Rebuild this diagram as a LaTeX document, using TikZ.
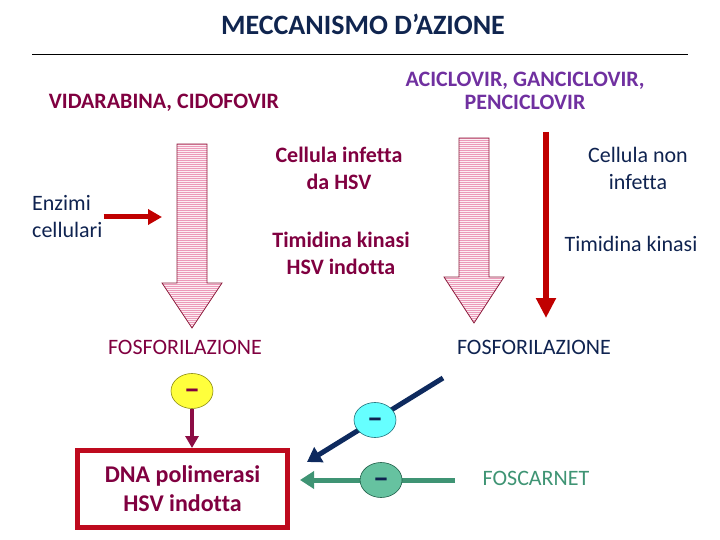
\documentclass[tikz,border=0pt]{standalone}
\usepackage{fontspec}
\setmainfont{Carlito}[Ligatures=NoCommon]
\usetikzlibrary{positioning,arrows.meta,shapes.geometric,patterns.meta}
\definecolor{titleNavy}{HTML}{10254F}
\definecolor{textNavy}{HTML}{0F2350}
\definecolor{textMaroon}{HTML}{800040}
\definecolor{textPurple}{HTML}{7030A0}
\definecolor{arrowRed}{HTML}{C00000}
\definecolor{boxRed}{HTML}{BE0A1E}
\definecolor{stripePink}{HTML}{EC9AB9}
\definecolor{fillPink}{HTML}{FCEEF3}
\definecolor{edgeMaroon}{HTML}{8C1C3C}
\definecolor{arrowMaroon}{HTML}{8C0D45}
\definecolor{inhibNavy}{HTML}{0E2A5E}
\definecolor{inhibGreen}{HTML}{3F9474}
\definecolor{discYellow}{HTML}{FFFF3C}
\definecolor{discYellowEdge}{HTML}{8A8A10}
\definecolor{discCyan}{HTML}{66FFFF}
\definecolor{discCyanEdge}{HTML}{1E6E78}
\definecolor{discGreen}{HTML}{66C2A0}
\definecolor{discGreenEdge}{HTML}{1E5E48}

\begin{document}
\begin{tikzpicture}[x=1pt,y=-1pt,
          every node/.style={inner sep=0pt,align=center},
          lbl/.style={font=\fontsize{22pt}{27pt}\selectfont},
          lblb/.style={font=\fontsize{22pt}{27pt}\selectfont\bfseries},
          bigarrow/.style={draw=edgeMaroon,line width=0.8pt,
                           preaction={fill=fillPink},
                           pattern={Lines[angle=0,distance=2pt,line width=0.6pt]},
                           pattern color=stripePink},
          disc/.style={ellipse,draw,line width=0.6pt,
                       minimum width=42pt,minimum height=35pt,
                       text height=0pt,text depth=0pt,
                       font=\fontsize{32pt}{32pt}\selectfont\bfseries},
          inhib/.style={line width=5pt,-{Triangle[length=14pt,width=17pt]}},
        ]
        \useasboundingbox (0,0) rectangle (720,540);
        % title and rule
        \node[font=\fontsize{28pt}{30pt}\selectfont\bfseries,text=titleNavy]
              (title) at (363,24) {MECCANISMO D’AZIONE};
        \draw[line width=0.8pt] (32,54) -- (688,54);
        % drug groups
        \node[lblb,text=textMaroon] (vidar) at (164,103) {VIDARABINA, CIDOFOVIR};
        \node[font=\fontsize{22pt}{23pt}\selectfont\bfseries,text=textPurple]
              (aciclo) at (525,91) {ACICLOVIR, GANCICLOVIR,\\PENCICLOVIR};
        % phosphorylation pathways
        \path[bigarrow] (177,144) -- (207,144) -- (207,283) -- (222,283)
              -- (192,328) -- (162,283) -- (177,283) -- cycle;
        \path[bigarrow] (459,138) -- (489,138) -- (489,277) -- (504,277)
              -- (474,323) -- (444,277) -- (459,277) -- cycle;
        \coordinate (redTop) at (546,132);
        \coordinate (redTip) at (546,318);
        \draw[arrowRed,line width=6pt,-{Triangle[length=20pt,width=19pt]}]
              (redTop) -- (redTip);
        \node[lbl,text=textNavy,align=left,anchor=west]
              (enzimi) at (32,217) {Enzimi\\cellulari};
        \coordinate (enzTip) at (162,217);
        \draw[arrowRed,line width=5pt,-{Triangle[length=14pt,width=15pt]}]
              ([xshift=1pt]enzimi.east) -- (enzTip);
        \node[lblb,text=textMaroon] (infetta) at (339,168) {Cellula infetta\\da HSV};
        \node[lblb,text=textMaroon] (tkhsv) at (341,253) {Timidina kinasi\\HSV indotta};
        \node[lbl,text=textNavy] (noninf) at (638,168) {Cellula non\\infetta};
        \node[lbl,text=textNavy] (tkcell) at (631,244) {Timidina kinasi};
        \node[lbl,text=textMaroon] (fosfoL) at (185,347) {FOSFORILAZIONE};
        \node[lbl,text=textNavy] (fosfoR) at (534,347) {FOSFORILAZIONE};
        % target enzyme
        \node[font=\fontsize{24pt}{29pt}\selectfont\bfseries,text=textMaroon,
              draw=boxRed,line width=5pt,
              minimum width=210pt,minimum height=77pt]
              (dnapol) at (182.5,489) {DNA polimerasi\\HSV indotta};
        \draw[boxRed,line width=1pt] ([shift={(4pt,-2.5pt)}]dnapol.north west)
              -- ([shift={(4pt,2.5pt)}]dnapol.south west);
        \draw[boxRed,line width=1pt] ([shift={(-4pt,-2.5pt)}]dnapol.north east)
              -- ([shift={(-4pt,2.5pt)}]dnapol.south east);
        % inhibitions
        \node[disc,fill=discYellow,draw=discYellowEdge,text=textMaroon]
              (menoY) at (192,391) {\raisebox{-0.25em}{–}};
        \draw[arrowMaroon,line width=4pt,-{Triangle[length=12pt,width=13pt]}]
              (menoY) -- (menoY |- dnapol.north);
        \coordinate (navyA) at (443,378);
        \coordinate (navyB) at (307,462);
        \draw[inhib,inhibNavy] (navyA) -- node[disc,fill=discCyan,
              draw=discCyanEdge,text=textNavy] (menoC) {\raisebox{-0.25em}{–}} (navyB);
        \coordinate (greenA) at (455,480);
        \coordinate (greenB) at (300,480);
        \draw[inhib,inhibGreen] (greenA) -- node[pos=0.477,disc,fill=discGreen,
              draw=discGreenEdge,text=textNavy] (menoG) {\raisebox{-0.25em}{–}} (greenB);
        \node[lbl,text=inhibGreen] (foscarnet) at (536,478) {FOSCARNET};
      \end{tikzpicture}
\end{document}
